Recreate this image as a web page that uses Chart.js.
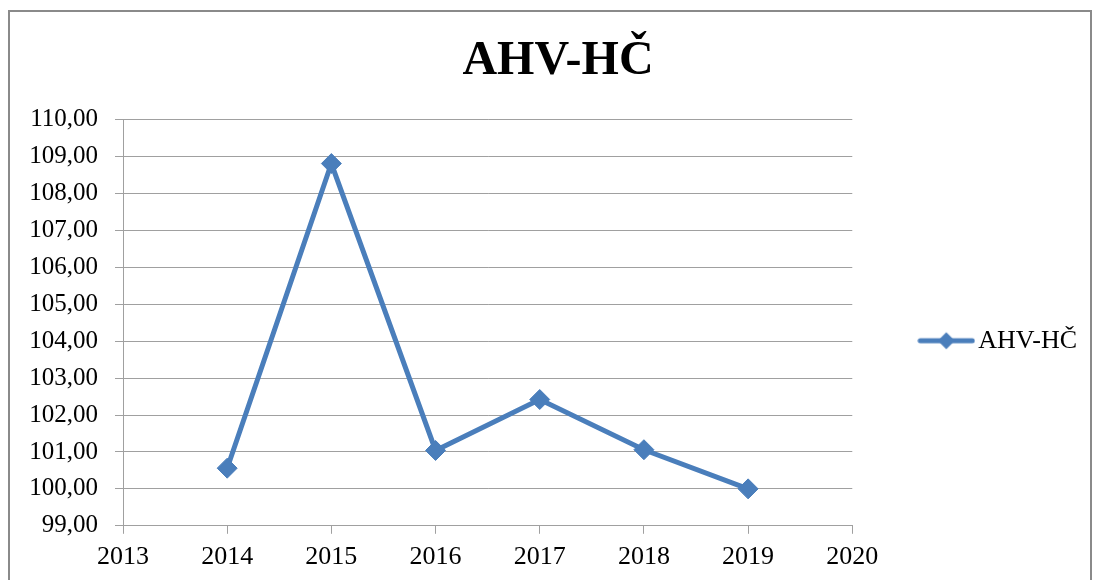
<!DOCTYPE html>
<html>
<head>
<meta charset="utf-8">
<script src="https://cdn.jsdelivr.net/npm/chart.js@4.4.0/dist/chart.umd.min.js"></script>
<style>
  html, body { margin: 0; padding: 0; background: #fff; overflow: hidden; }
  #frame { position: absolute; left: 8px; top: 10px; width: 1080px; height: 600px; border: 2px solid #8a8a8a; }
  #myChart { position: absolute; left: 0; top: 0; }
</style>
</head>
<body>
<div id="frame"></div>
<canvas id="myChart" width="1094" height="580"></canvas>
<script>
/* DATA */

const seriesName = 'AHV-HČ';
const years = [2014, 2015, 2016, 2017, 2018, 2019];
const ahvValues = [100.56, 108.81, 101.04, 102.42, 101.06, 100.00];
const xTickLabels = [2013, 2014, 2015, 2016, 2017, 2018, 2019, 2020];
const yTickLabels = [99, 100, 101, 102, 103, 104, 105, 106, 107, 108, 109, 110];

const blue = '#4a7ebb';
const gridGrey = '#a0a0a0';

/* LEGEND MARKER: LINE WITH A DIAMOND, LIKE EXCEL */

function legendMarker() {
  const c = document.createElement('canvas');
  c.width = 58;
  c.height = 20;
  const g = c.getContext('2d');
  g.strokeStyle = blue;
  g.lineWidth = 5;
  g.lineCap = 'round';
  g.beginPath();
  g.moveTo(3, 10);
  g.lineTo(55, 10);
  g.stroke();
  g.fillStyle = blue;
  g.beginPath();
  g.moveTo(29, 1.5);
  g.lineTo(37.5, 10);
  g.lineTo(29, 18.5);
  g.lineTo(20.5, 10);
  g.closePath();
  g.fill();
  return c;
}

/* CREATE CHART */

Chart.defaults.font.family = "'Liberation Serif', 'Times New Roman', serif";
Chart.defaults.color = '#000';

const ctx = document.getElementById('myChart').getContext('2d');
const myChart = new Chart(ctx, {
  type: 'line',
  data: {
    datasets: [{
      label: seriesName,
      data: years.map((y, i) => ({ x: y, y: ahvValues[i] })),
      borderColor: blue,
      backgroundColor: blue,
      borderWidth: 5,
      pointStyle: 'rectRot',
      pointRadius: 10,
      pointBorderWidth: 1,
      pointBackgroundColor: blue,
      pointBorderColor: blue,
      tension: 0
    }]
  },
  options: {
    responsive: false,
    animation: false,
    layout: { padding: { left: 29, right: 7, top: 0, bottom: -1 } },
    plugins: {
      title: {
        display: true,
        text: seriesName,
        font: { size: 48, weight: 'bold' },
        padding: { top: 33, bottom: 29 }
      },
      legend: {
        position: 'right',
        fullSize: false,
        title: { display: true, text: '', font: { size: 10, lineHeight: 1 }, padding: { top: 26, bottom: 0 } },
        labels: {
          usePointStyle: true,
          pointStyle: legendMarker(),
          pointStyleWidth: 38,
          padding: 75,
          font: { size: 26 },
          color: '#000'
        }
      },
      tooltip: { enabled: false }
    },
    scales: {
      x: {
        type: 'linear',
        min: xTickLabels[0],
        max: xTickLabels[xTickLabels.length - 1],
        afterBuildTicks: axis => { axis.ticks = xTickLabels.map(v => ({ value: v })); },
        ticks: {
          font: { size: 26 },
          padding: 8,
          callback: v => String(v)
        },
        grid: { drawOnChartArea: false, drawTicks: true, tickLength: 8, color: gridGrey },
        border: { color: gridGrey }
      },
      y: {
        min: yTickLabels[0],
        max: yTickLabels[yTickLabels.length - 1],
        afterBuildTicks: axis => { axis.ticks = yTickLabels.map(v => ({ value: v })); },
        afterFit: axis => { axis.width = 94; },
        ticks: {
          font: { size: 25 },
          padding: 17,
          callback: v => v.toFixed(2).replace('.', ',')
        },
        grid: { color: gridGrey, tickLength: 8 },
        border: { color: gridGrey }
      }
    }
  }
});
</script>
</body>
</html>
